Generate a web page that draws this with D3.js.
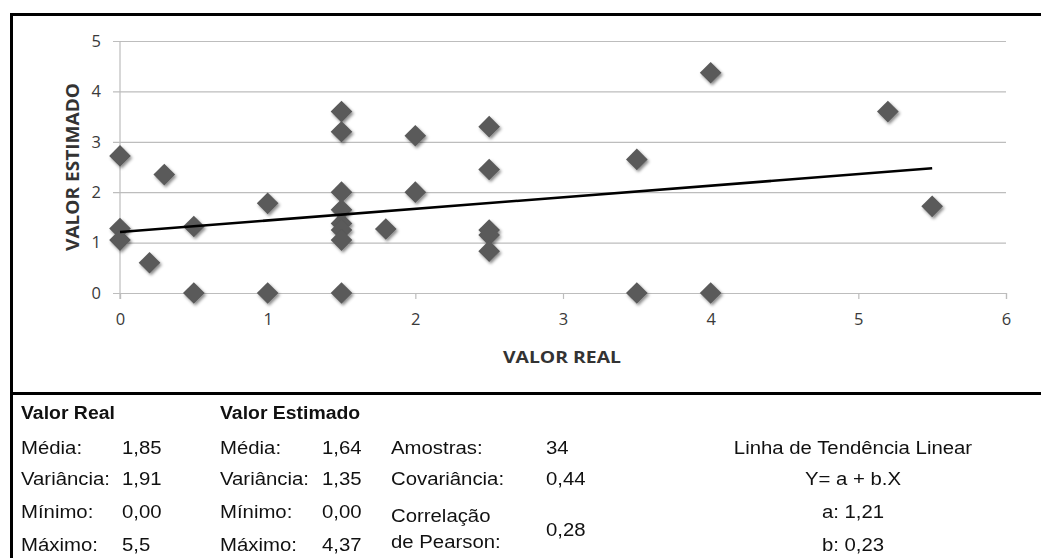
<!DOCTYPE html>
<html>
<head>
<meta charset="utf-8">
<script src="https://cdn.jsdelivr.net/npm/d3@7"></script>
<style>
  html, body { margin: 0; padding: 0; background: #fff; }
  svg { display: block; }
</style>
</head>
<body>
<div id="chart"></div>
<script>
// Scatter of real vs estimated values, with a stats table below

// Points
const valorReal = [0, 0, 0, 0.2, 0.3, 0.5, 0.5, 1, 1, 1.5, 1.5, 1.5, 1.5, 1.5, 1.5, 1.5, 1.5,
  1.8, 2, 2, 2.5, 2.5, 2.5, 2.5, 2.5, 3.5, 3.5, 4, 4, 5.2, 5.5];
const valorEstimado = [2.72, 1.28, 1.05, 0.6, 2.35, 1.32, 0, 1.78, 0, 3.6, 3.2, 2.0, 1.65, 1.38, 1.25, 1.05, 0,
  1.27, 3.12, 2.0, 3.3, 2.45, 1.25, 1.15, 0.83, 2.65, 0, 4.37, 0, 3.6, 1.72];

const xTicks = [0, 1, 2, 3, 4, 5, 6];
const yTicks = [0, 1, 2, 3, 4, 5];

// Trend line Y = a + b.X
const trendA = 1.21;
const trendB = 0.23;
const trendRange = [0, 5.5];

// Table values
const statLabels = ["Média:", "Variância:", "Mínimo:", "Máximo:"];
const valorRealStats = ["1,85", "1,91", "0,00", "5,5"];
const valorEstimadoStats = ["1,64", "1,35", "0,00", "4,37"];
const amostras = "34";
const covariancia = "0,44";
const correlacao = "0,28";
const trendLines = ["Linha de Tendência Linear", "Y= a + b.X", "a: 1,21", "b: 0,23"];

const width = 1041, height = 558;
const svg = d3.select("#chart").append("svg")
  .attr("width", width)
  .attr("height", height);

const defs = svg.append("defs");
defs.append("filter")
  .attr("id", "shadow")
  .attr("x", "-50%").attr("y", "-50%")
  .attr("width", "200%").attr("height", "200%")
  .append("feDropShadow")
  .attr("dx", 1.5)
  .attr("dy", 2)
  .attr("stdDeviation", 1.6)
  .attr("flood-color", "#000")
  .attr("flood-opacity", 0.45);

// scales
const x = d3.scaleLinear().domain([0, 6]).range([120, 1006]);
const y = d3.scaleLinear().domain([0, 5]).range([293, 41]);

const chartFont = "'Open Sans', sans-serif";
const tableFont = "'Liberation Sans', Arial, sans-serif";

// gridlines (they also act as left ticks)
svg.append("g")
  .attr("transform", `translate(${x(6)},0)`)
  .call(g => {
    g.call(d3.axisLeft(y).tickValues(yTicks).tickSize(x(6) - x(0) + 7).tickFormat(""));
    g.select(".domain").remove();
    g.selectAll(".tick line").attr("stroke", "#bdbdbd").attr("stroke-width", 1.2);
  });

// y tick labels
svg.append("g").selectAll("text")
  .data(yTicks)
  .join("text")
  .attr("x", 101)
  .attr("y", d => y(d))
  .attr("dy", "0.35em")
  .attr("text-anchor", "end")
  .attr("font-family", chartFont)
  .attr("font-size", 16.5)
  .attr("fill", "#3a3a3a")
  .text(d => d);

// vertical axis line
svg.append("line")
  .attr("x1", x(0)).attr("x2", x(0))
  .attr("y1", y(5)).attr("y2", y(0) + 6)
  .attr("stroke", "#bdbdbd").attr("stroke-width", 1.2);

// x axis with small ticks
svg.append("g")
  .attr("transform", `translate(0,${y(0)})`)
  .call(d3.axisBottom(x).tickValues(xTicks).tickSize(6).tickPadding(14).tickFormat(d => d))
  .call(g => {
    g.select(".domain").attr("stroke", "#bdbdbd").attr("stroke-width", 1.2);
    g.selectAll(".tick line").attr("stroke", "#bdbdbd").attr("stroke-width", 1.2);
    g.selectAll(".tick text")
      .attr("font-family", chartFont)
      .attr("font-size", 16.5)
      .attr("fill", "#3a3a3a");
  });

// axis titles
svg.append("text")
  .attr("transform", `translate(79,167) rotate(-90)`)
  .attr("text-anchor", "middle")
  .attr("font-family", chartFont)
  .attr("font-weight", "bold")
  .attr("font-size", 17)
  .attr("fill", "#333")
  .attr("textLength", 168)
  .attr("lengthAdjust", "spacingAndGlyphs")
  .text("VALOR  ESTIMADO");

svg.append("text")
  .attr("x", 562)
  .attr("y", 363)
  .attr("text-anchor", "middle")
  .attr("font-family", chartFont)
  .attr("font-weight", "bold")
  .attr("font-size", 16)
  .attr("fill", "#333")
  .attr("textLength", 118)
  .attr("lengthAdjust", "spacingAndGlyphs")
  .text("VALOR REAL");

// diamonds
const points = valorReal.map((v, i) => ({ real: v, est: valorEstimado[i] }));
const diamond = d3.symbol().type(d3.symbolSquare).size(235);
svg.append("g")
  .attr("filter", "url(#shadow)")
  .selectAll("path")
  .data(points)
  .join("path")
  .attr("d", diamond)
  .attr("transform", d => `translate(${x(d.real)},${y(d.est)}) rotate(45)`)
  .attr("fill", "#5a5a5a");

// trend line
svg.append("line")
  .attr("x1", x(trendRange[0]))
  .attr("y1", y(trendA + trendB * trendRange[0]))
  .attr("x2", x(trendRange[1]))
  .attr("y2", y(trendA + trendB * trendRange[1]))
  .attr("stroke", "#000")
  .attr("stroke-width", 2.6);

// frame lines
const frame = svg.append("g").attr("stroke", "#000").attr("stroke-width", 3);
frame.append("line").attr("x1", 10).attr("x2", width).attr("y1", 14.5).attr("y2", 14.5);
frame.append("line").attr("x1", 11.5).attr("x2", 11.5).attr("y1", 13).attr("y2", height);
frame.append("line").attr("x1", 10).attr("x2", width).attr("y1", 393.5).attr("y2", 393.5);

// table text helper: the original text is a bit wider than Arial
function cell(txt, px, py, opts = {}) {
  const sx = opts.bold ? 1.05 : 1.1;
  svg.append("text")
    .attr("transform", `translate(${px},${py}) scale(${sx},1)`)
    .attr("dy", "0.35em")
    .attr("text-anchor", opts.anchor || "start")
    .attr("font-family", tableFont)
    .attr("font-weight", opts.bold ? "bold" : "normal")
    .attr("font-size", 18.5)
    .attr("fill", "#111")
    .text(txt);
}

const rowY = [448, 479, 512, 545];

cell("Valor Real", 21, 413, { bold: true });
cell("Valor Estimado", 220, 413, { bold: true });

statLabels.forEach((lab, i) => {
  cell(lab, 21, rowY[i]);
  cell(valorRealStats[i], 122, rowY[i]);
  cell(lab, 220, rowY[i]);
  cell(valorEstimadoStats[i], 322, rowY[i]);
});

cell("Amostras:", 391, rowY[0]);
cell(amostras, 546, rowY[0]);
cell("Covariância:", 391, rowY[1]);
cell(covariancia, 546, rowY[1]);
cell("Correlação", 391, 516);
cell("de Pearson:", 391, 542);
cell(correlacao, 546, 530);

trendLines.forEach((t, i) => cell(t, 853, rowY[i], { anchor: "middle" }));
</script>
</body>
</html>
